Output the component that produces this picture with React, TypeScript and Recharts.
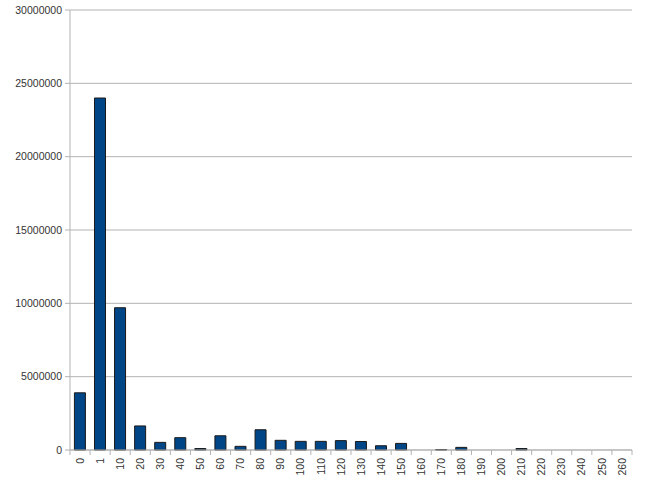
import { Bar, BarChart, CartesianGrid, XAxis, YAxis } from "recharts";

const categories = [
	"0", "1", "10", "20", "30", "40", "50", "60", "70", "80", "90", "100", "110", "120",
	"130", "140", "150", "160", "170", "180", "190", "200", "210", "220", "230", "240", "250", "260",
];

const counts = [
	3900000, 24000000, 9700000, 1640000, 520000, 840000, 100000, 970000, 250000, 1380000,
	660000, 590000, 590000, 640000, 580000, 290000, 450000, 0, 30000, 180000,
	0, 0, 100000, 0, 0, 0, 0, 0,
];

const yTicks = [0, 5000000, 10000000, 15000000, 20000000, 25000000, 30000000];

const data = categories.map((name, i) => ({ name, value: counts[i] }));

const W = 666;
const H = 489;
const LEFT = 70;
const RIGHT = 34;
const band = (W - LEFT - RIGHT) / categories.length;
const grid = "#b3b3b3";
const font = "'Liberation Sans', Arial, sans-serif";

function XTick(props: any) {
	const { x, y, payload, index } = props;
	const half = band / 2;
	return (
		<g>
			<line x1={x - half} x2={x - half} y1={y - 8} y2={y - 3} stroke={grid} />
			{index === categories.length - 1 && (
				<line x1={x + half} x2={x + half} y1={y - 8} y2={y - 3} stroke={grid} />
			)}
			<text
				x={x}
				y={y}
				dy="0.35em"
				transform={`rotate(-90, ${x}, ${y})`}
				textAnchor="end"
				fontSize={10.5}
				fontFamily={font}
				fill="#333"
			>
				{payload.value}
			</text>
		</g>
	);
}

export default function App() {
	return (
		<div style={{ position: "absolute", left: 0, top: 0, background: "#fff" }}>
			<BarChart
				width={W}
				height={H}
				data={data}
				margin={{ top: 10, right: RIGHT, left: 0, bottom: 0 }}
				barCategoryGap="22%"
			>
				<CartesianGrid vertical={false} stroke={grid} strokeWidth={1} />
				<XAxis
					dataKey="name"
					interval={0}
					height={39}
					axisLine={{ stroke: grid }}
					tickLine={false}
					tickSize={5}
					tickMargin={3}
					tick={<XTick />}
				/>
				<YAxis
					width={LEFT}
					domain={[0, 30000000]}
					ticks={yTicks}
					interval={0}
					axisLine={{ stroke: grid }}
					tickLine={{ stroke: grid }}
					tickSize={5}
					tickMargin={3}
					tick={{ fontSize: 10.5, fontFamily: font, fill: "#333" }}
				/>
				<YAxis
					yAxisId="frame"
					orientation="right"
					width={0}
					tick={false}
					tickLine={false}
					axisLine={{ stroke: grid }}
				/>
				<Bar
					dataKey="value"
					fill="#004586"
					stroke="#1a1a1a"
					strokeWidth={1}
					isAnimationActive={false}
				/>
			</BarChart>
		</div>
	);
}
